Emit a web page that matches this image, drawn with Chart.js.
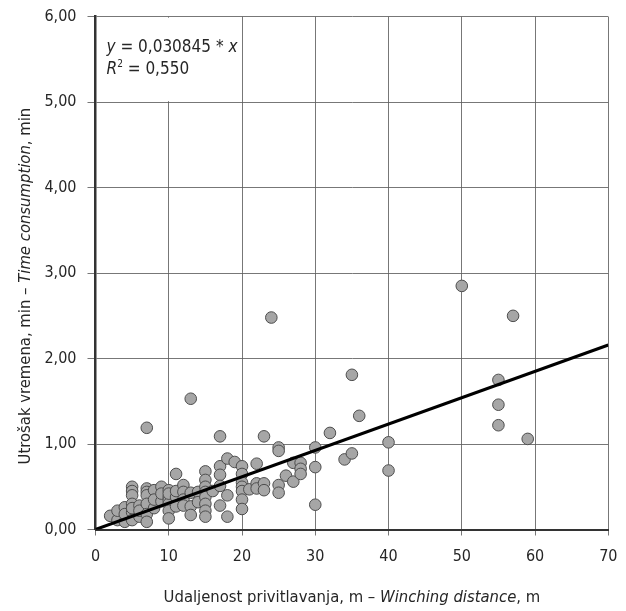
<!DOCTYPE html>
<html>
<head>
<meta charset="utf-8">
<script src="https://cdn.jsdelivr.net/npm/chart.js@4.4.1/dist/chart.umd.min.js"></script>
<style>
  html, body { margin: 0; padding: 0; background: #ffffff; }
  #wrap { position: relative; width: 626px; height: 611px; }
</style>
</head>
<body>
<div id="wrap"><canvas id="chart" width="626" height="611"></canvas></div>
<script>
// Winching distance (m) and the matching time consumption (min) for each observed cycle
const distance = [
  2, 3, 3, 4, 4, 4,
  5, 5, 5, 5, 5, 5, 5,
  6, 6, 6,
  7, 7, 7, 7, 7, 7, 7,
  8, 8, 8,
  9, 9, 9,
  10, 10, 10, 10, 10, 10, 10,
  11, 11, 11, 11,
  12, 12, 12, 12,
  13, 13, 13, 13,
  14, 14,
  15, 15, 15, 15, 15, 15, 15, 15,
  16,
  17, 17, 17, 17, 17,
  18, 18, 18,
  19,
  20, 20, 20, 20, 20, 20, 20,
  21,
  22, 22, 22,
  23, 23, 23,
  24,
  25, 25, 25, 25,
  26,
  27, 27,
  28, 28, 28,
  30, 30, 30,
  32,
  34,
  35, 35,
  36,
  40, 40,
  50,
  55, 55, 55,
  57,
  59
];
const timeMin = [
  0.16, 0.11, 0.22, 0.26, 0.09, 0.18,
  0.50, 0.45, 0.40, 0.30, 0.20, 0.11, 0.25,
  0.28, 0.15, 0.22,
  1.19, 0.48, 0.44, 0.40, 0.30, 0.18, 0.09,
  0.46, 0.25, 0.35,
  0.50, 0.33, 0.42,
  0.46, 0.38, 0.34, 0.30, 0.22, 0.13, 0.42,
  0.65, 0.38, 0.27, 0.45,
  0.52, 0.44, 0.35, 0.28,
  1.53, 0.43, 0.27, 0.17,
  0.44, 0.32,
  0.68, 0.58, 0.50, 0.44, 0.38, 0.30, 0.22, 0.15,
  0.45,
  1.09, 0.74, 0.64, 0.51, 0.28,
  0.83, 0.40, 0.15,
  0.79,
  0.74, 0.65, 0.55, 0.50, 0.45, 0.35, 0.24,
  0.47,
  0.77, 0.54, 0.48,
  1.09, 0.54, 0.46,
  2.48,
  0.96, 0.92, 0.52, 0.43,
  0.63,
  0.78, 0.56,
  0.78, 0.71, 0.65,
  0.96, 0.73, 0.29,
  1.13,
  0.82,
  1.81, 0.89,
  1.33,
  1.02, 0.69,
  2.85,
  1.75, 1.46, 1.22,
  2.50,
  1.06
];

// Regression through the origin
const slope = 0.030845;
const rSquared = '0,550';

const xTicks = [0, 10, 20, 30, 40, 50, 60, 70];
const yTicks = [0, 1, 2, 3, 4, 5, 6];

const FONT = "'Liberation Sans Narrow', 'DejaVu Sans Condensed', 'Liberation Sans', Arial, sans-serif";
const TEXT = '#262626';
const GRID = 'rgba(95,95,95,0.85)';

const points = distance.map((d, i) => ({ x: d, y: timeMin[i] }));
const xMax = xTicks[xTicks.length - 1];
const fitLine = [{ x: 0, y: 0 }, { x: xMax, y: slope * xMax }];

// Draws a row of text runs with separate styles; align 'left' or 'center'
function drawRuns(ctx, runs, x, y, align) {
  let total = 0;
  const widths = runs.map(r => {
    ctx.font = r.font;
    const w = ctx.measureText(r.text).width;
    total += w;
    return w;
  });
  let cx = align === 'center' ? x - total / 2 : x;
  runs.forEach((r, i) => {
    ctx.font = r.font;
    ctx.fillText(r.text, cx, y + (r.dy || 0));
    cx += widths[i];
  });
}

const decorPlugin = {
  id: 'decor',
  beforeDatasetsDraw(chart) {
    // blank cell behind the equation
    const { ctx, scales: { x, y } } = chart;
    const l = x.getPixelForValue(0) + 1.5, r = x.getPixelForValue(20) - 1;
    const t = y.getPixelForValue(6) + 1, b = y.getPixelForValue(5) - 1;
    ctx.save();
    ctx.fillStyle = '#ffffff';
    ctx.fillRect(l, t, r - l, b - t);
    ctx.restore();
  },
  afterDraw(chart) {
    const { ctx, chartArea, scales: { x, y } } = chart;
    ctx.save();
    ctx.fillStyle = TEXT;
    ctx.textBaseline = 'middle';

    // equation and coefficient of determination
    const ex = x.getPixelForValue(0) + 11;
    const ey = y.getPixelForValue(6) + 31;
    const eq = "17px " + FONT, eqI = "italic 17px " + FONT;
    drawRuns(ctx, [
      { text: 'y', font: eqI },
      { text: ' = 0,030845 * ', font: eq },
      { text: 'x', font: eqI }
    ], ex, ey, 'left');
    drawRuns(ctx, [
      { text: 'R', font: eqI },
      { text: '2', font: "10px " + FONT, dy: -5 },
      { text: ' = ' + rSquared, font: eq }
    ], ex, ey + 22, 'left');

    // axis titles
    const tf = "16.5px " + FONT, tfI = "italic 16.5px " + FONT;
    drawRuns(ctx, [
      { text: 'Udaljenost privitlavanja, m – ', font: tf },
      { text: 'Winching distance', font: tfI },
      { text: ', m', font: tf }
    ], (chartArea.left + chartArea.right) / 2, 598, 'center');

    ctx.translate(26, (chartArea.top + chartArea.bottom) / 2 + 13);
    ctx.rotate(-Math.PI / 2);
    drawRuns(ctx, [
      { text: 'Utrošak vremena, min – ', font: tf },
      { text: 'Time consumption', font: tfI },
      { text: ', min', font: tf }
    ], 0, 0, 'center');
    ctx.restore();
  }
};

new Chart(document.getElementById('chart'), {
  type: 'scatter',
  data: {
    datasets: [
      {
        label: 'fit',
        data: fitLine,
        showLine: true,
        borderColor: '#000000',
        borderWidth: 3,
        pointRadius: 0,
        pointHoverRadius: 0,
        order: 0
      },
      {
        label: 'cycles',
        data: points,
        pointRadius: 5.8,
        pointHoverRadius: 5.8,
        pointBackgroundColor: '#a6a6a6',
        pointBorderColor: '#4d4d4d',
        pointBorderWidth: 1,
        order: 1
      }
    ]
  },
  options: {
    responsive: false,
    animation: false,
    events: [],
    layout: { padding: { top: 16.7, right: 17.7, left: 0, bottom: 0 } },
    plugins: { legend: { display: false }, tooltip: { enabled: false } },
    scales: {
      x: {
        type: 'linear',
        min: 0, max: xMax,
        afterFit(s) { s.height = 81.5; s.paddingLeft = 0; s.paddingRight = 0; },
        afterBuildTicks(s) { s.ticks = xTicks.map(v => ({ value: v })); },
        ticks: {
          color: TEXT,
          padding: 12,
          font: { family: FONT, size: 16 },
          maxRotation: 0
        },
        grid: { color: GRID, lineWidth: 1, tickLength: 6 },
        border: { color: '#333333', width: 2 }
      },
      y: {
        type: 'linear',
        min: 0, max: 6,
        afterFit(s) { s.width = 95.5; s.paddingTop = 0; s.paddingBottom = 0; },
        afterBuildTicks(s) { s.ticks = yTicks.map(v => ({ value: v })); },
        ticks: {
          color: TEXT,
          padding: 11,
          font: { family: FONT, size: 16 },
          callback: v => v.toFixed(2).replace('.', ',')
        },
        grid: { color: GRID, lineWidth: 1, tickLength: 8 },
        border: { color: '#333333', width: 2.5 }
      }
    }
  },
  plugins: [decorPlugin]
});
</script>
</body>
</html>
